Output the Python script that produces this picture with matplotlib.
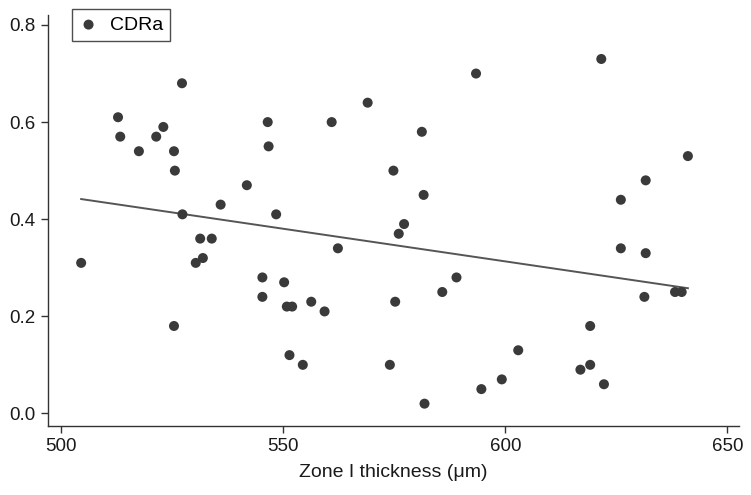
import numpy as np
import matplotlib
matplotlib.use("Agg")
import matplotlib.pyplot as plt

plt.rcParams['font.family'] = ['Liberation Sans', 'DejaVu Sans']

# Zone I thickness (um) and CDRa
thickness = [504.5, 512.8, 513.3, 517.5, 521.4, 523.0, 525.4, 525.6, 525.4, 527.2,
             527.3, 530.3, 531.3, 531.9, 533.9, 535.9, 541.8, 545.3, 545.3, 546.5,
             546.7, 548.4, 550.2, 550.8, 552.0, 551.4, 554.4, 556.3, 559.3, 560.9,
             562.3, 569.0, 574.0, 574.8, 575.2, 576.0, 577.2, 581.2, 581.6, 581.8,
             585.8, 589.0, 593.4, 594.6, 599.2, 602.9, 616.9, 619.1, 619.1, 621.6,
             622.2, 626.0, 626.0, 631.3, 631.6, 631.6, 638.2, 639.7, 641.1]
cdra = [0.31, 0.61, 0.57, 0.54, 0.57, 0.59, 0.54, 0.50, 0.18, 0.68,
        0.41, 0.31, 0.36, 0.32, 0.36, 0.43, 0.47, 0.28, 0.24, 0.60,
        0.55, 0.41, 0.27, 0.22, 0.22, 0.12, 0.10, 0.23, 0.21, 0.60,
        0.34, 0.64, 0.10, 0.50, 0.23, 0.37, 0.39, 0.58, 0.45, 0.02,
        0.25, 0.28, 0.70, 0.05, 0.07, 0.13, 0.09, 0.10, 0.18, 0.73,
        0.06, 0.44, 0.34, 0.24, 0.48, 0.33, 0.25, 0.25, 0.53]

x = np.array(thickness)
y = np.array(cdra)

fig = plt.figure(figsize=(7.51, 4.95), dpi=100)
ax = fig.add_axes([0.0643, 0.1394, 0.9197, 0.8303])

ax.scatter(x, y, s=52, color='#3a3a3a', edgecolors='none', label='CDRa', zorder=3)

# least squares fit line over the data range
slope, intercept = np.polyfit(x, y, 1)
xs = np.array([x.min(), x.max()])
ax.plot(xs, intercept + slope * xs, color='#555555', lw=1.4, zorder=2)

ax.set_xlim(497.1, 652.6)
ax.set_ylim(-0.026, 0.8206)
ax.set_xticks([500, 550, 600, 650])
ax.set_yticks([0.0, 0.2, 0.4, 0.6, 0.8])
ax.set_yticklabels(['0.0', '0.2', '0.4', '0.6', '0.8'])

for s in ['top', 'right']:
    ax.spines[s].set_visible(False)
for s in ['left', 'bottom']:
    ax.spines[s].set_color('#333333')
    ax.spines[s].set_linewidth(1.0)
ax.tick_params(direction='out', length=5, width=1, color='#333333',
               labelsize=13.5, labelcolor='#1a1a1a', pad=4)

ax.set_xlabel('Zone I thickness (μm)', fontsize=14, color='#1a1a1a', labelpad=6)

leg = fig.legend(loc='upper left', bbox_to_anchor=(0.0959, 0.9812),
                 bbox_transform=fig.transFigure, fontsize=14, frameon=True,
                 fancybox=False, borderaxespad=0, handletextpad=0.6,
                 handlelength=1.0, borderpad=0.35)
leg.get_frame().set_edgecolor('#222222')
leg.get_frame().set_linewidth(1.0)

fig.savefig('out.png', dpi=100)
